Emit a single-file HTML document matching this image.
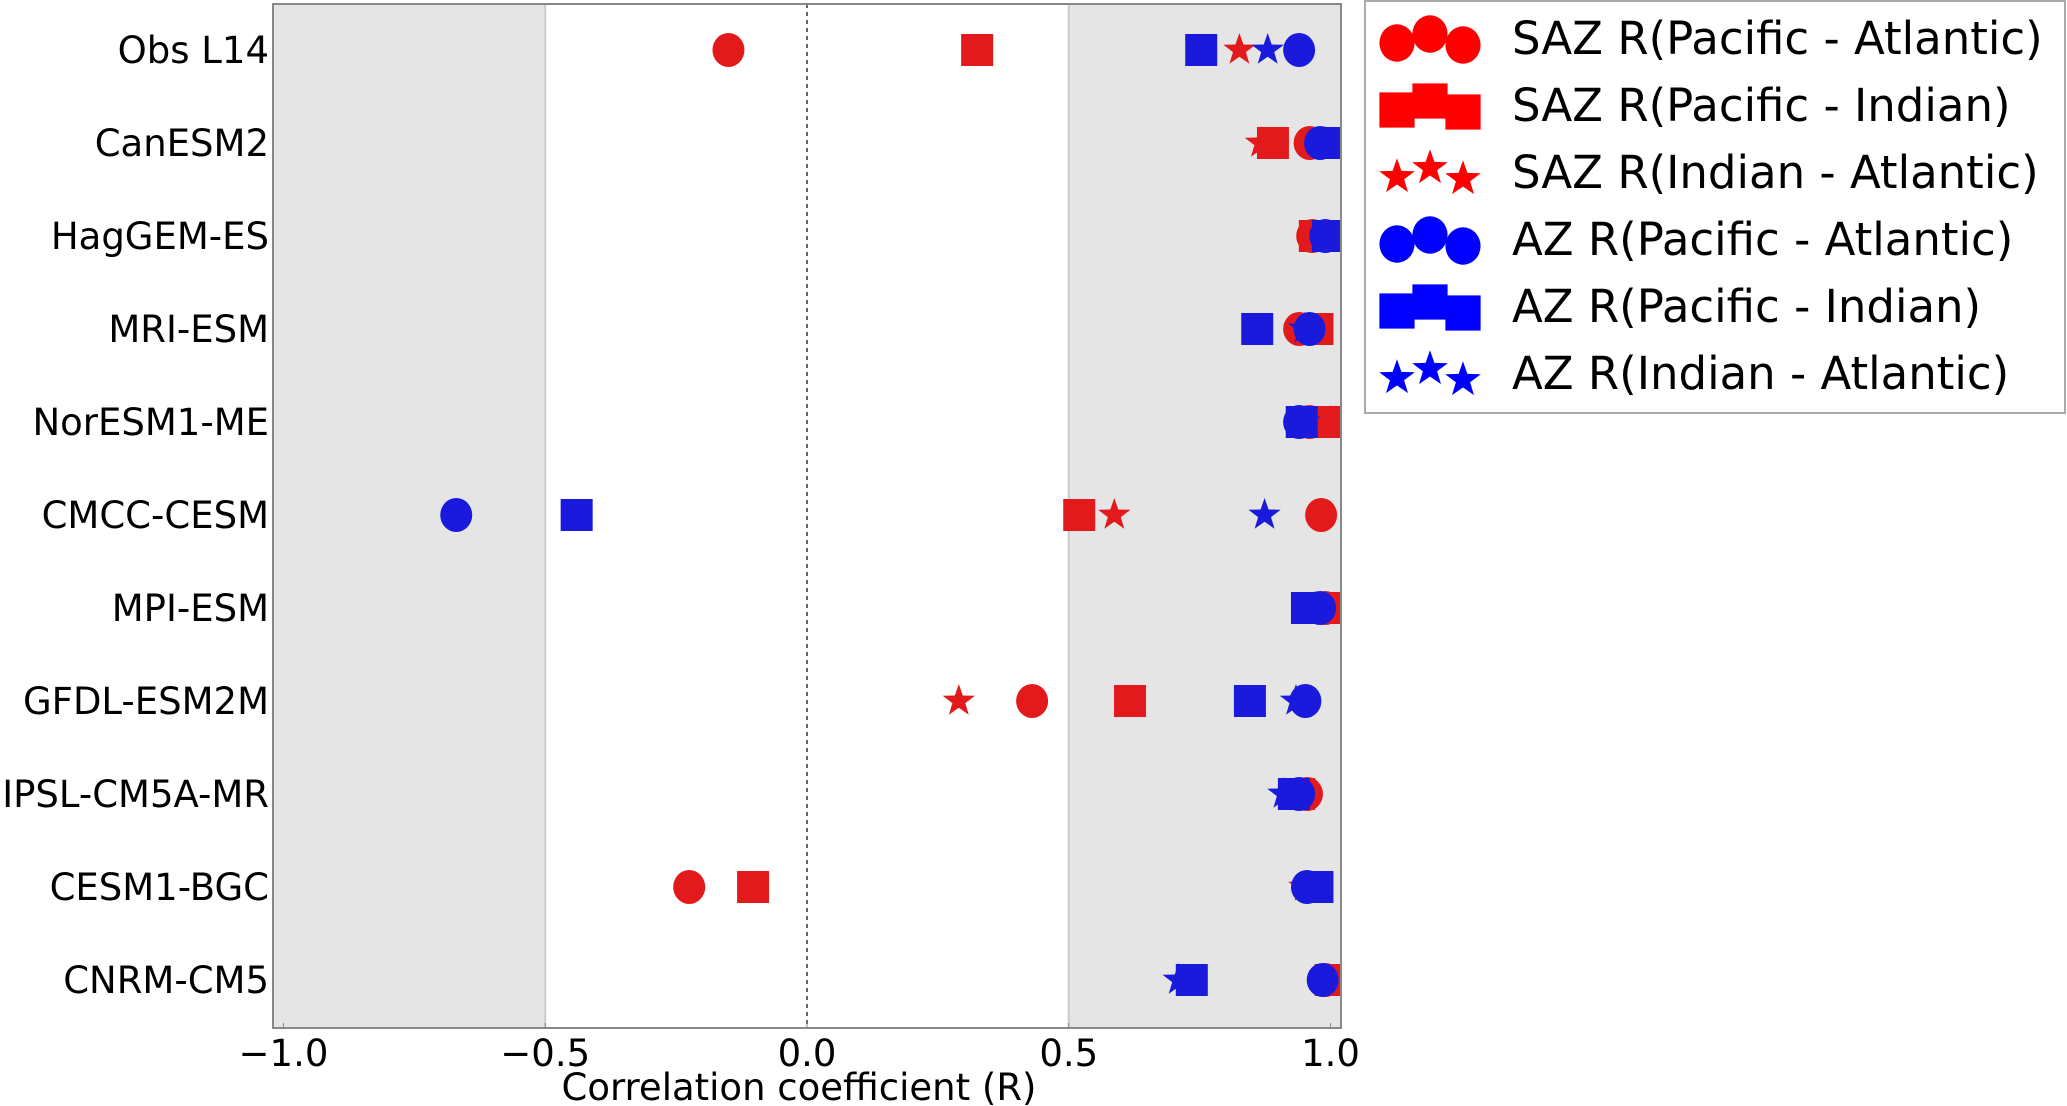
<!DOCTYPE html>
<html><head><meta charset="utf-8"><style>
body{margin:0;background:#fff;}
svg{display:block;font-family:"DejaVu Sans","Liberation Sans",sans-serif;}
</style></head><body>
<svg id="chart" width="2067" height="1106" viewBox="0 0 2067 1106" xmlns="http://www.w3.org/2000/svg"></svg>
<script>
const models = ["Obs L14","CanESM2","HagGEM-ES","MRI-ESM","NorESM1-ME","CMCC-CESM","MPI-ESM","GFDL-ESM2M","IPSL-CM5A-MR","CESM1-BGC","CNRM-CM5"];
const sazPA = [-0.15,0.96,0.965,0.94,0.96,0.982,0.99,0.43,0.955,-0.225,0.99];
const sazPI = [0.325,0.89,0.97,0.975,0.995,0.52,1.0,0.617,0.94,-0.103,1.0];
const sazIA = [0.826,0.867,0.97,0.95,1.0,0.587,0.97,0.29,0.94,0.95,0.99];
const azPA = [0.94,0.98,0.99,0.96,0.94,-0.67,0.98,0.952,0.94,0.955,0.985];
const azPI = [0.753,1.0,0.995,0.86,0.945,-0.44,0.955,0.846,0.93,0.975,0.735];
const azIA = [0.88,0.99,0.99,0.95,0.95,0.874,0.97,0.934,0.91,0.96,0.71];
const xTicks = [-1.0,-0.5,0.0,0.5,1.0];
const xTickLabels = ["\u22121.0","\u22120.5","0.0","0.5","1.0"];
const legendLabels = ["SAZ R(Pacific - Atlantic)","SAZ R(Pacific - Indian)","SAZ R(Indian - Atlantic)","AZ R(Pacific - Atlantic)","AZ R(Pacific - Indian)","AZ R(Indian - Atlantic)"];

const NS="http://www.w3.org/2000/svg";
const svg=document.getElementById('chart');
const L=273,R=1341,T=4,B=1028,X0=-1.02,X1=1.02;
const xs=v=>L+(v-X0)/(X1-X0)*(R-L);
const ys=i=>50+i*93;
function mk(tag,attrs,parent){const e=document.createElementNS(NS,tag);for(const k in attrs)e.setAttribute(k,attrs[k]);(parent||svg).appendChild(e);return e;}

const bg=mk('g',{});


mk('rect',{x:L,y:T,width:R-L,height:B-T,fill:'#fff'},bg);
mk('rect',{x:L,y:T,width:xs(-0.5)-L,height:B-T,fill:'#e5e5e5'},bg);
mk('rect',{x:xs(0.5),y:T,width:R-xs(0.5),height:B-T,fill:'#e5e5e5'},bg);
mk('line',{x1:xs(-0.5),x2:xs(-0.5),y1:T,y2:B,stroke:'#ccc','stroke-width':2},bg);
mk('line',{x1:xs(0.5),x2:xs(0.5),y1:T,y2:B,stroke:'#ccc','stroke-width':2},bg);
const zl=mk('line',{x1:xs(0),x2:xs(0),y1:T,y2:B,stroke:'#666','stroke-width':2,'stroke-dasharray':'4,4'});



function star(cx,cy,r){let p=[];for(let k=0;k<10;k++){const a=-Math.PI/2+k*Math.PI/5;const rr=k%2?r*0.4:r;p.push((cx+rr*Math.cos(a)).toFixed(1)+','+(cy+rr*Math.sin(a)).toFixed(1));}return p.join(' ');}
function marker(shape,cx,cy,color,parent,s){s=s||1;
 if(shape==='o')return mk('ellipse',{cx:cx,cy:cy,rx:16*s,ry:17*s,fill:color},parent);
 if(shape==='s')return mk('rect',{x:cx-16*s,y:cy-16*s,width:32*s,height:32*s,fill:color},parent);
 return mk('polygon',{points:star(cx,cy,17*s),fill:color},parent);}

const red='#e31a1c',blue='#1a1adc';
const series=[[sazPA,'o',red,'saz-pacific-atlantic'],[sazPI,'s',red,'saz-pacific-indian'],[sazIA,'*',red,'saz-indian-atlantic'],[azPA,'o',blue,'az-pacific-atlantic'],[azPI,'s',blue,'az-pacific-indian'],[azIA,'*',blue,'az-indian-atlantic']];
const clip=mk('clipPath',{id:'pc'});mk('rect',{x:L,y:T,width:R-L,height:B-T},clip);
series.forEach(([vals,sh,col,name])=>{
 const g=mk('g',{'clip-path':'url(#pc)'});
 
 
 vals.forEach((v,i)=>{const m=marker(sh,xs(v),ys(i),col,g);
  
  });
});

const frame=mk('rect',{x:L,y:T,width:R-L,height:B-T,fill:'none',stroke:'#888','stroke-width':2});



models.forEach((m,i)=>{const t=mk('text',{x:L-4,y:ys(i)+13,'text-anchor':'end','font-size':37,fill:'#000'});t.textContent=m;
 
 });
xTicks.forEach((v,i)=>{mk('line',{x1:xs(v),x2:xs(v),y1:B,y2:B-5,stroke:'#888'});
 const t=mk('text',{x:xs(v),y:B+38,'text-anchor':'middle','font-size':37,fill:'#000'});t.textContent=xTickLabels[i];
 
 });
const xt=mk('text',{x:(L+R)/2-8,y:1100,'text-anchor':'middle','font-size':37,fill:'#000'});xt.textContent='Correlation coefficient (R)';



const lg=mk('g',{});


mk('rect',{x:1365,y:1,width:700,height:412,fill:'#fff',stroke:'#aaa','stroke-width':2},lg);
const lshapes=['o','s','*','o','s','*'],lcols=['#ff0000','#ff0000','#ff0000','#0000ff','#0000ff','#0000ff'];
legendLabels.forEach((lab,i)=>{const y=38+i*67;
 const e=mk('g',{},lg);
 
 
 [[1397,5],[1430,-4],[1463,7]].forEach(([x,dy])=>marker(lshapes[i],x,y+dy,lcols[i],e,lshapes[i]==='o'?1.1:1.1));
 const t=mk('text',{x:1512,y:y+16,'font-size':45,fill:'#000'},e);t.textContent=lab;});
</script>
</body></html>
